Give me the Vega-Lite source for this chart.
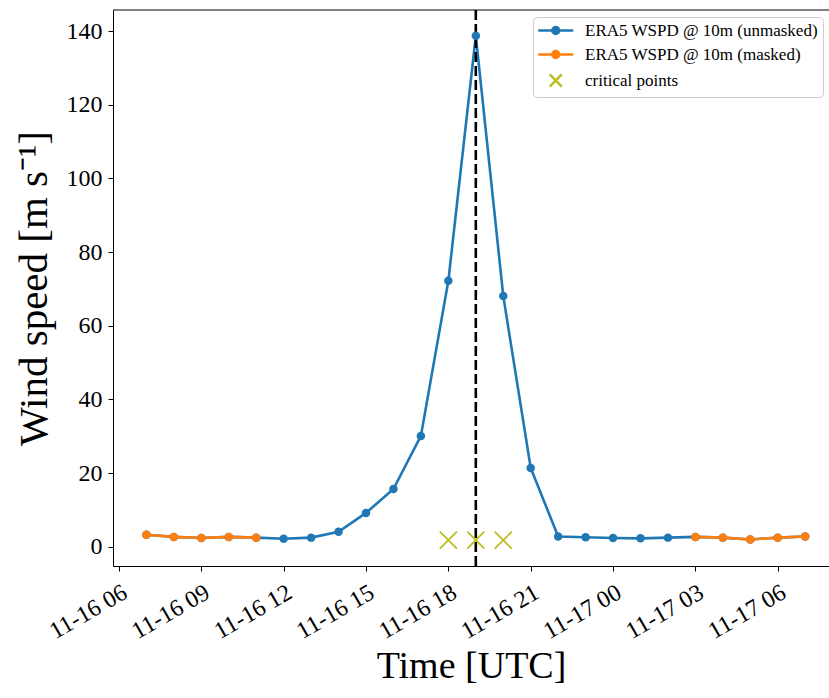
{
  "$schema": "https://vega.github.io/schema/vega-lite/v6.json",
  "width": 716,
  "height": 556,
  "autosize": {"type": "none"},
  "padding": {"left": 113, "top": 10, "right": 0, "bottom": 132},
  "background": "white",
  "config": {
    "view": {"stroke": null},
    "font": "Liberation Serif",
    "axis": {
      "grid": false,
      "domainColor": "#000000",
      "domainWidth": 1,
      "tickColor": "#000000",
      "tickWidth": 1,
      "tickSize": 5,
      "labelColor": "#000000",
      "titleColor": "#000000",
      "labelFont": "Liberation Serif",
      "titleFont": "Liberation Serif",
      "labelFontSize": 24,
      "titleFontSize": 38,
      "titleFontWeight": "normal"
    }
  },
  "datasets": {
    "ws": [
      {"t": "2023-11-16T07:00:00Z", "v": 3.3, "m": 1, "seg": "a"},
      {"t": "2023-11-16T08:00:00Z", "v": 2.7, "m": 1, "seg": "a"},
      {"t": "2023-11-16T09:00:00Z", "v": 2.4, "m": 1, "seg": "a"},
      {"t": "2023-11-16T10:00:00Z", "v": 2.7, "m": 1, "seg": "a"},
      {"t": "2023-11-16T11:00:00Z", "v": 2.5, "m": 1, "seg": "a"},
      {"t": "2023-11-16T12:00:00Z", "v": 2.2, "m": 0, "seg": "u"},
      {"t": "2023-11-16T13:00:00Z", "v": 2.5, "m": 0, "seg": "u"},
      {"t": "2023-11-16T14:00:00Z", "v": 4.1, "m": 0, "seg": "u"},
      {"t": "2023-11-16T15:00:00Z", "v": 9.2, "m": 0, "seg": "u"},
      {"t": "2023-11-16T16:00:00Z", "v": 15.7, "m": 0, "seg": "u"},
      {"t": "2023-11-16T17:00:00Z", "v": 30.1, "m": 0, "seg": "u"},
      {"t": "2023-11-16T18:00:00Z", "v": 72.2, "m": 0, "seg": "u"},
      {"t": "2023-11-16T19:00:00Z", "v": 138.7, "m": 0, "seg": "u"},
      {"t": "2023-11-16T20:00:00Z", "v": 68.1, "m": 0, "seg": "u"},
      {"t": "2023-11-16T21:00:00Z", "v": 21.4, "m": 0, "seg": "u"},
      {"t": "2023-11-16T22:00:00Z", "v": 2.8, "m": 0, "seg": "u"},
      {"t": "2023-11-16T23:00:00Z", "v": 2.6, "m": 0, "seg": "u"},
      {"t": "2023-11-17T00:00:00Z", "v": 2.4, "m": 0, "seg": "u"},
      {"t": "2023-11-17T01:00:00Z", "v": 2.3, "m": 0, "seg": "u"},
      {"t": "2023-11-17T02:00:00Z", "v": 2.5, "m": 0, "seg": "u"},
      {"t": "2023-11-17T03:00:00Z", "v": 2.7, "m": 1, "seg": "b"},
      {"t": "2023-11-17T04:00:00Z", "v": 2.5, "m": 1, "seg": "b"},
      {"t": "2023-11-17T05:00:00Z", "v": 2.0, "m": 1, "seg": "b"},
      {"t": "2023-11-17T06:00:00Z", "v": 2.5, "m": 1, "seg": "b"},
      {"t": "2023-11-17T07:00:00Z", "v": 2.8, "m": 1, "seg": "b"}
    ],
    "crit": [
      {"t": "2023-11-16T18:00:00Z", "v": 1.8},
      {"t": "2023-11-16T19:00:00Z", "v": 1.8},
      {"t": "2023-11-16T20:00:00Z", "v": 1.8}
    ],
    "vline": [
      {"t": "2023-11-16T19:00:00Z"}
    ],
    "legend": [
      {"s": "ERA5 WSPD @ 10m (unmasked)"},
      {"s": "ERA5 WSPD @ 10m (masked)"},
      {"s": "critical points"}
    ]
  },
  "layer": [
    {
      "data": {"name": "ws"},
      "mark": {"type": "line", "color": "#1f77b4", "strokeWidth": 2.6},
      "encoding": {
        "x": {
          "field": "t",
          "type": "temporal",
          "scale": {
            "type": "utc",
            "domain": [
              {"year": 2023, "month": 11, "date": 16, "hours": 5, "minutes": 47, "utc": true},
              {"year": 2023, "month": 11, "date": 17, "hours": 7, "minutes": 52, "utc": true}
            ]
          },
          "axis": {
            "title": "Time [UTC]",
            "labelExpr": "utcFormat(datum.value, '%m-%d %H')",
            "values": [
              {"year": 2023, "month": 11, "date": 16, "hours": 6, "utc": true},
              {"year": 2023, "month": 11, "date": 16, "hours": 9, "utc": true},
              {"year": 2023, "month": 11, "date": 16, "hours": 12, "utc": true},
              {"year": 2023, "month": 11, "date": 16, "hours": 15, "utc": true},
              {"year": 2023, "month": 11, "date": 16, "hours": 18, "utc": true},
              {"year": 2023, "month": 11, "date": 16, "hours": 21, "utc": true},
              {"year": 2023, "month": 11, "date": 17, "hours": 0, "utc": true},
              {"year": 2023, "month": 11, "date": 17, "hours": 3, "utc": true},
              {"year": 2023, "month": 11, "date": 17, "hours": 6, "utc": true}
            ],
            "labelAngle": -30,
            "labelAlign": "right",
            "labelBaseline": "top",
            "labelDx": -14,
            "labelDy": -8,
            "labelPadding": 9,
            "labelOverlap": false,
            "labelFlush": false,
            "titlePadding": 4
          }
        },
        "y": {
          "field": "v",
          "type": "quantitative",
          "scale": {"domain": [-5.2, 145.7], "nice": false, "zero": false},
          "axis": {
            "title": "Wind speed [m s⁻¹]",
            "titleFontSize": 41,
            "values": [0, 20, 40, 60, 80, 100, 120, 140],
            "labelPadding": 6,
            "titlePadding": 11
          }
        }
      }
    },
    {
      "data": {"name": "ws"},
      "transform": [{"filter": "datum.m == 1"}],
      "mark": {"type": "line", "color": "#ff7f0e", "strokeWidth": 2.6},
      "encoding": {
        "x": {"field": "t", "type": "temporal"},
        "y": {"field": "v", "type": "quantitative"},
        "detail": {"field": "seg"}
      }
    },
    {
      "data": {"name": "vline"},
      "mark": {"type": "rule", "color": "#000000", "strokeWidth": 2.6, "strokeDash": [10, 4]},
      "encoding": {
        "x": {"field": "t", "type": "temporal"}
      }
    },
    {
      "data": {"name": "ws"},
      "mark": {"type": "point", "filled": true, "color": "#1f77b4", "opacity": 1, "size": 72},
      "encoding": {
        "x": {"field": "t", "type": "temporal"},
        "y": {"field": "v", "type": "quantitative"}
      }
    },
    {
      "data": {"name": "ws"},
      "transform": [{"filter": "datum.m == 1"}],
      "mark": {"type": "point", "filled": true, "color": "#ff7f0e", "opacity": 1, "size": 72},
      "encoding": {
        "x": {"field": "t", "type": "temporal"},
        "y": {"field": "v", "type": "quantitative"}
      }
    },
    {
      "data": {"name": "crit"},
      "mark": {"type": "point", "shape": "M-1,-1L1,1M-1,1L1,-1", "filled": false, "stroke": "#bcbd22", "strokeWidth": 1.8, "opacity": 1, "size": 289},
      "encoding": {
        "x": {"field": "t", "type": "temporal"},
        "y": {"field": "v", "type": "quantitative"}
      }
    },
    {
      "data": {"values": [{}]},
      "mark": {"type": "rule", "color": "#000000", "strokeWidth": 1},
      "encoding": {
        "y": {"datum": 145.7, "type": "quantitative"}
      }
    },
    {
      "data": {"name": "legend"},
      "transform": [{"filter": "datum.s == 'none'"}],
      "mark": {"type": "point", "filled": true, "opacity": 1, "size": 196, "strokeWidth": 2.5},
      "encoding": {
        "fill": {
          "field": "s",
          "type": "nominal",
          "scale": {
            "domain": ["ERA5 WSPD @ 10m (unmasked)", "ERA5 WSPD @ 10m (masked)", "critical points"],
            "range": ["#1f77b4", "#ff7f0e", "#bcbd22"]
          },
          "legend": {
            "title": null,
            "orient": "none",
            "legendX": 420,
            "legendY": 7,
            "padding": 5,
            "labelFont": "Liberation Serif",
            "labelFontSize": 17,
            "labelColor": "#000000",
            "labelLimit": 400,
            "labelOffset": 30,
            "rowPadding": 6,
            "symbolSize": 196,
            "symbolStrokeWidth": 2.5,
            "symbolOpacity": 1,
            "strokeColor": "#cccccc",
            "fillColor": "#ffffff",
            "cornerRadius": 4
          }
        },
        "stroke": {
          "field": "s",
          "type": "nominal",
          "scale": {
            "domain": ["ERA5 WSPD @ 10m (unmasked)", "ERA5 WSPD @ 10m (masked)", "critical points"],
            "range": ["#1f77b4", "#ff7f0e", "#bcbd22"]
          },
          "legend": {
            "title": null,
            "orient": "none",
            "legendX": 420,
            "legendY": 7,
            "padding": 5,
            "labelFont": "Liberation Serif",
            "labelFontSize": 17,
            "labelColor": "#000000",
            "labelLimit": 400,
            "labelOffset": 30,
            "rowPadding": 6,
            "symbolSize": 196,
            "symbolStrokeWidth": 2.5,
            "symbolOpacity": 1,
            "strokeColor": "#cccccc",
            "fillColor": "#ffffff",
            "cornerRadius": 4
          }
        },
        "shape": {
          "field": "s",
          "type": "nominal",
          "scale": {
            "domain": ["ERA5 WSPD @ 10m (unmasked)", "ERA5 WSPD @ 10m (masked)", "critical points"],
            "range": [
              "M-1.18,0H3.82M0.82,0A0.5,0.5 0 1,0 1.82,0A0.5,0.5 0 1,0 0.82,0Z",
              "M-1.18,0H3.82M0.82,0A0.5,0.5 0 1,0 1.82,0A0.5,0.5 0 1,0 0.82,0Z",
              "M0.46,-0.86L2.18,0.86M0.46,0.86L2.18,-0.86"
            ]
          },
          "legend": {
            "title": null,
            "orient": "none",
            "legendX": 420,
            "legendY": 7,
            "padding": 5,
            "labelFont": "Liberation Serif",
            "labelFontSize": 17,
            "labelColor": "#000000",
            "labelLimit": 400,
            "labelOffset": 30,
            "rowPadding": 6,
            "symbolSize": 196,
            "symbolStrokeWidth": 2.5,
            "symbolOpacity": 1,
            "strokeColor": "#cccccc",
            "fillColor": "#ffffff",
            "cornerRadius": 4
          }
        }
      }
    }
  ]
}
